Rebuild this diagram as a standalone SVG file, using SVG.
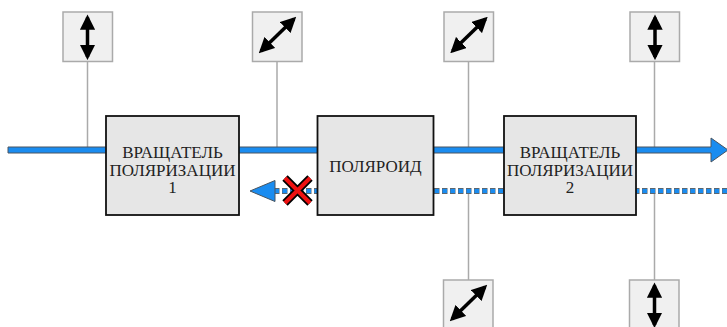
<svg xmlns="http://www.w3.org/2000/svg" width="727" height="327" viewBox="0 0 727 327">
<style>
.icon{fill:#f0f0f0;stroke:#aaaaaa;stroke-width:1.5}
.lead{stroke:#aaaaaa;stroke-width:1.5;fill:none}
.blk{fill:#e6e6e6;stroke:#111;stroke-width:1.8}
.lbl{font-family:"Liberation Serif","Times New Roman",serif;font-size:17px;fill:#222;text-anchor:middle}
.pol{stroke:#000;stroke-width:3.5;fill:none}
</style>
<defs>
<marker id="ah" viewBox="0 0 10 10" refX="8" refY="5" markerWidth="4.4" markerHeight="4.4" orient="auto-start-reverse" markerUnits="strokeWidth">
<path d="M0,0 L10,5 L0,10 Z" fill="#000"/>
</marker>
</defs>
<g id="connectors">
<line class="lead" x1="87.5" y1="62" x2="87.5" y2="148"/>
<line class="lead" x1="277" y1="62" x2="277" y2="148"/>
<line class="lead" x1="468.5" y1="62" x2="468.5" y2="148"/>
<line class="lead" x1="654.5" y1="62" x2="654.5" y2="148"/>
<line class="lead" x1="468.5" y1="193" x2="468.5" y2="280"/>
<line class="lead" x1="654.5" y1="193" x2="654.5" y2="280"/>
<g id="forward-beam">
<path d="M8,147 L711,147 L711,138 L728,150 L711,162 L711,153 L8,153 Z" fill="#1a8cf0" stroke="#4a5560" stroke-width="1"/>
</g>
<g id="return-beam">
<line x1="727" y1="191" x2="272" y2="191" stroke="#5a6670" stroke-width="6" stroke-dasharray="5.5 2.5" stroke-dashoffset="0.5"/>
<line x1="727" y1="191" x2="272" y2="191" stroke="#1a8cf0" stroke-width="4" stroke-dasharray="4.5 3.5"/>
<path d="M275,180.5 L275,201.5 L250,191 Z" fill="#1a8cf0" stroke="#4a5560" stroke-width="1"/>
</g>
<g id="block-x">
<path d="M285,178 L310,203 M310,178 L285,203" stroke="#000" stroke-width="7.5" fill="none"/>
<path d="M285,178 L310,203 M310,178 L285,203" stroke="#ee1111" stroke-width="4" fill="none"/>
</g>
</g>
<g id="rotator1">
<rect class="blk" x="106" y="116" width="133" height="99"/>
<text class="lbl" x="172.5" y="158">ВРАЩАТЕЛЬ</text>
<text class="lbl" x="172.5" y="175.5">ПОЛЯРИЗАЦИИ</text>
<text class="lbl" x="172.5" y="193">1</text>
</g>
<g id="polaroid">
<rect class="blk" x="317.5" y="116" width="116" height="99"/>
<text class="lbl" x="375.5" y="172">ПОЛЯРОИД</text>
</g>
<g id="rotator2">
<rect class="blk" x="504" y="116" width="132" height="99"/>
<text class="lbl" x="570" y="158">ВРАЩАТЕЛЬ</text>
<text class="lbl" x="570" y="175.5">ПОЛЯРИЗАЦИИ</text>
<text class="lbl" x="570" y="193">2</text>
</g>
<g id="pol-in">
<rect class="icon" x="63" y="12" width="49.5" height="49.5"/>
<line class="pol" x1="87.5" y1="17.5" x2="87.5" y2="57" marker-start="url(#ah)" marker-end="url(#ah)"/>
</g>
<g id="pol-1">
<rect class="icon" x="252.5" y="12" width="49.5" height="49.5"/>
<line class="pol" x1="261" y1="51" x2="294" y2="19" marker-start="url(#ah)" marker-end="url(#ah)"/>
</g>
<g id="pol-2">
<rect class="icon" x="444" y="12" width="49.5" height="49.5"/>
<line class="pol" x1="452.5" y1="51" x2="485.5" y2="19" marker-start="url(#ah)" marker-end="url(#ah)"/>
</g>
<g id="pol-out">
<rect class="icon" x="630" y="12" width="49.5" height="49.5"/>
<line class="pol" x1="655" y1="17.5" x2="655" y2="57" marker-start="url(#ah)" marker-end="url(#ah)"/>
</g>
<g id="pol-back-2">
<rect class="icon" x="443.5" y="280" width="49.5" height="49.5"/>
<line class="pol" x1="452" y1="319" x2="485" y2="287" marker-start="url(#ah)" marker-end="url(#ah)"/>
</g>
<g id="pol-back-out">
<rect class="icon" x="629.5" y="280" width="49.5" height="49.5"/>
<line class="pol" x1="654.5" y1="285.5" x2="654.5" y2="325" marker-start="url(#ah)" marker-end="url(#ah)"/>
</g>
</svg>
